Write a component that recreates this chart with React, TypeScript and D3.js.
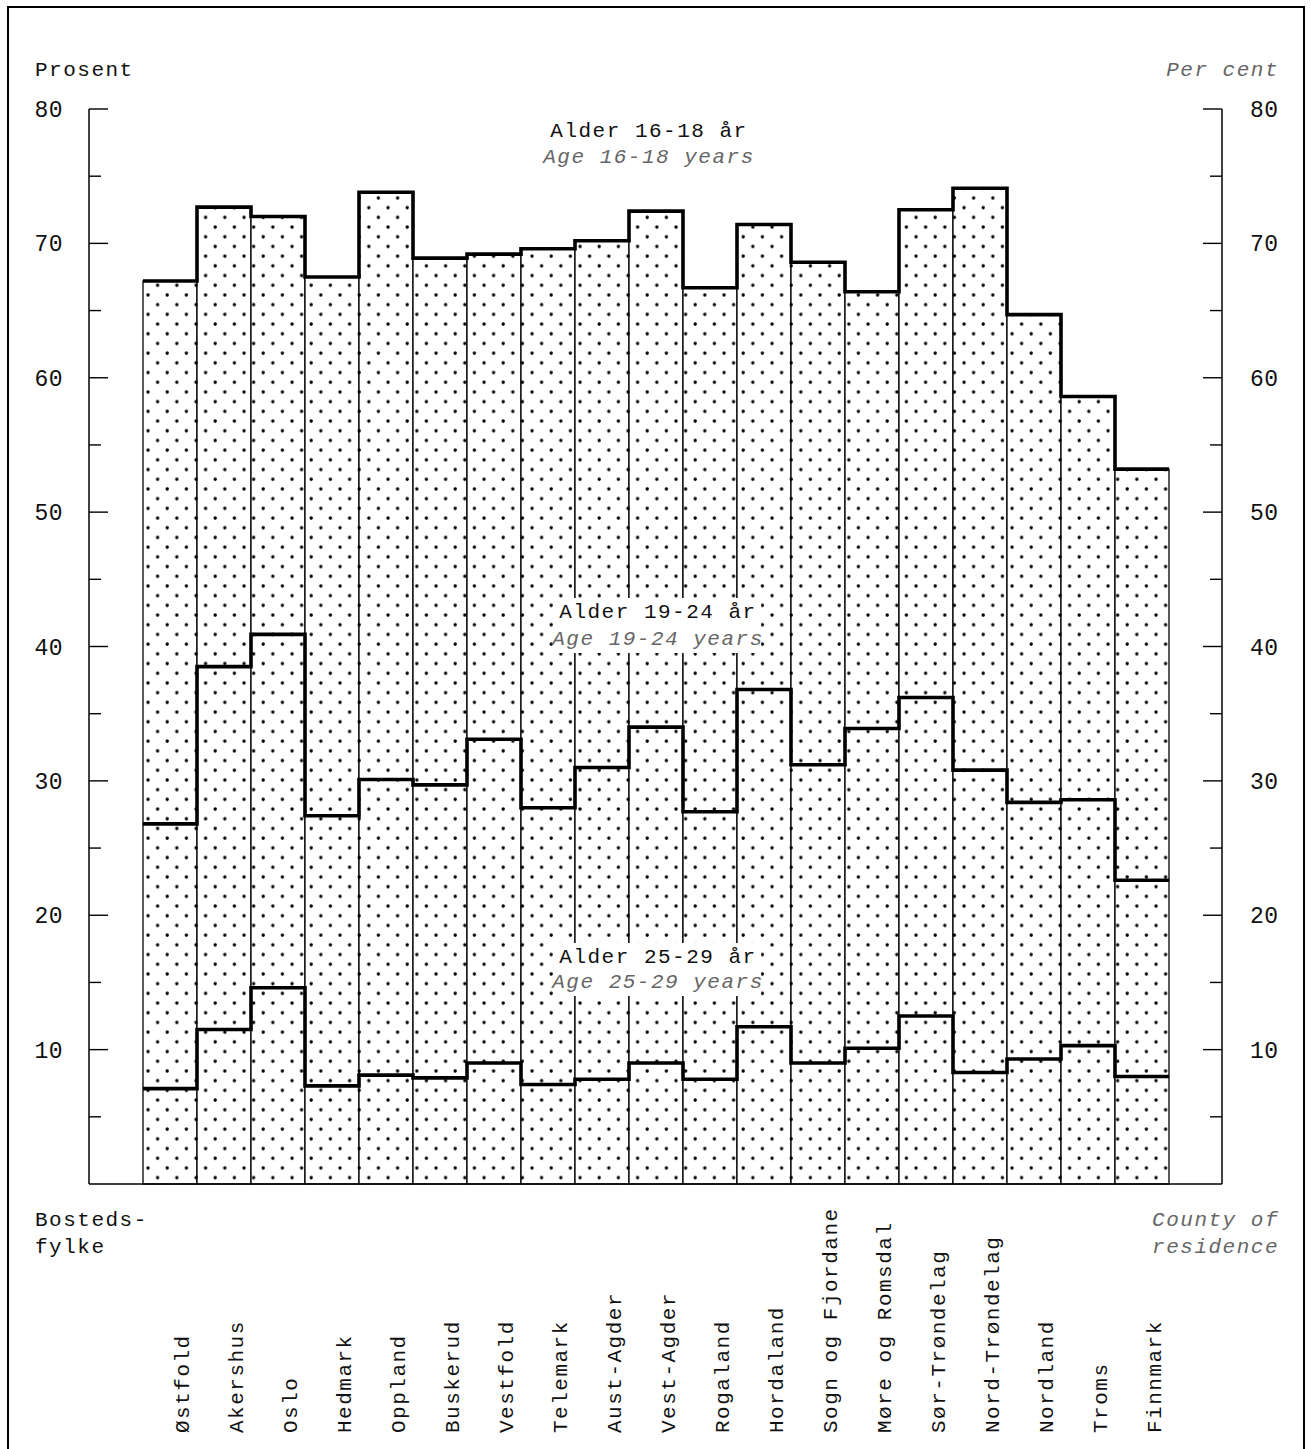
import React from "react";
import * as d3 from "d3";

const counties = [
  "Østfold", "Akershus", "Oslo", "Hedmark", "Oppland", "Buskerud", "Vestfold",
  "Telemark", "Aust-Agder", "Vest-Agder", "Rogaland", "Hordaland",
  "Sogn og Fjordane", "Møre og Romsdal", "Sør-Trøndelag", "Nord-Trøndelag",
  "Nordland", "Troms", "Finnmark",
];
const age16to18 = [67.2, 72.7, 72.0, 67.5, 73.8, 68.9, 69.2, 69.6, 70.2, 72.4, 66.7, 71.4, 68.6, 66.4, 72.5, 74.1, 64.7, 58.6, 53.2];
const age19to24 = [26.8, 38.5, 40.9, 27.4, 30.1, 29.7, 33.1, 28.0, 31.0, 34.0, 27.7, 36.8, 31.2, 33.9, 36.2, 30.8, 28.4, 28.6, 22.6];
const age25to29 = [7.1, 11.5, 14.6, 7.3, 8.1, 7.9, 9.0, 7.4, 7.8, 9.0, 7.8, 11.7, 9.0, 10.1, 12.5, 8.3, 9.3, 10.3, 8.0];
const yTicks = [5, 10, 15, 20, 25, 30, 35, 40, 45, 50, 55, 60, 65, 70, 75, 80];
const seriesLabels = [
  { no: "Alder 16-18 år", en: "Age 16-18 years" },
  { no: "Alder 19-24 år", en: "Age 19-24 years" },
  { no: "Alder 25-29 år", en: "Age 25-29 years" },
];

const MONO = "'Liberation Mono', 'DejaVu Sans Mono', monospace";

export default function App() {
  const W = 1311, H = 1449;
  const axL = 89, axR = 1222;
  const x = d3.scaleBand<string>().domain(counties).range([143, 1169]).paddingInner(0).paddingOuter(0);
  const y = d3.scaleLinear().domain([0, 80]).range([1184, 109]);
  const bw = x.bandwidth();

  const stepPts = (vals: number[]) => {
    const pts: [number, number][] = [];
    counties.forEach((c, i) => {
      pts.push([x(c)!, y(vals[i])]);
      pts.push([x(c)! + bw, y(vals[i])]);
    });
    return pts;
  };
  const line = d3.line<[number, number]>().x(d => d[0]).y(d => d[1]);

  const labelPos = [
    { cx: 649, y1: 137, y2: 163, box: false },
    { cx: 658, y1: 618, y2: 645, box: true },
    { cx: 658, y1: 963, y2: 988, box: true },
  ];

  const txt = { fontFamily: MONO, fontSize: 21, letterSpacing: 1.5, fill: "#111" } as const;
  const ital = { fontFamily: MONO, fontSize: 21, letterSpacing: 1.5, fill: "#666", fontStyle: "italic" as const };
  const num = { fontFamily: MONO, fontSize: 23, letterSpacing: 0.5, fill: "#111" } as const;

  return (
    <svg width={W} height={H} style={{ position: "absolute", left: 0, top: 0, background: "#fff" }}>
      <defs>
        <pattern id="dots" patternUnits="userSpaceOnUse" x={143} y={0} width={19.2} height={19.4}>
          <rect width={19.2} height={19.4} fill="#fff" />
          <circle cx={5} cy={4} r={1.7} fill="#000" />
          <circle cx={14.6} cy={13.7} r={1.7} fill="#000" />
        </pattern>
      </defs>
      <rect x={0} y={0} width={W} height={H} fill="#fff" />
      {/* frame */}
      <path d={`M8,${H + 5} L8,7 L1304,7 L1304,${H + 5}`} fill="none" stroke="#000" strokeWidth={2} />

      {/* bars */}
      {counties.map((c, i) => (
        <rect key={c} x={x(c)} y={y(age16to18[i])} width={bw} height={y(0) - y(age16to18[i])}
          fill="url(#dots)" stroke="#000" strokeWidth={1.3} />
      ))}

      {/* step lines */}
      {[age16to18, age19to24, age25to29].map((vals, k) => (
        <path key={k} d={line(stepPts(vals))!} fill="none" stroke="#000" strokeWidth={3.6} strokeLinejoin="miter" />
      ))}

      {/* baseline */}
      <line x1={axL} x2={axR} y1={y(0)} y2={y(0)} stroke="#000" strokeWidth={1.5} />

      {/* axes */}
      <line x1={axL} x2={axL} y1={y(80)} y2={y(0)} stroke="#000" strokeWidth={1.5} />
      <line x1={axR} x2={axR} y1={y(80)} y2={y(0)} stroke="#000" strokeWidth={1.5} />
      {yTicks.map(t => {
        const major = t % 10 === 0;
        const len = major ? 19 : 12;
        return (
          <g key={t}>
            <line x1={axL} x2={axL + len} y1={y(t)} y2={y(t)} stroke="#000" strokeWidth={1.4} />
            <line x1={axR - len} x2={axR} y1={y(t)} y2={y(t)} stroke="#000" strokeWidth={1.4} />
            {major && (
              <>
                <text x={63} y={y(t) + 8} textAnchor="end" {...num}>{t}</text>
                <text x={1250} y={y(t) + 8} textAnchor="start" {...num}>{t}</text>
              </>
            )}
          </g>
        );
      })}

      <text x={35} y={76} {...txt}>Prosent</text>
      <text x={1279} y={76} textAnchor="end" {...ital}>Per cent</text>

      {/* series labels */}
      {seriesLabels.map((s, k) => {
        const p = labelPos[k];
        return (
          <g key={k}>
            {p.box && <rect x={p.cx - 103} y={p.y1 - 20} width={206} height={p.y2 - p.y1 + 28} fill="#fff" />}
            <text x={p.cx} y={p.y1} textAnchor="middle" {...txt}>{s.no}</text>
            <text x={p.cx} y={p.y2} textAnchor="middle" {...ital}>{s.en}</text>
          </g>
        );
      })}

      <text x={35} y={1226} {...txt}>Bosteds-</text>
      <text x={35} y={1253} {...txt}>fylke</text>
      <text x={1279} y={1226} textAnchor="end" {...ital}>County of</text>
      <text x={1279} y={1253} textAnchor="end" {...ital}>residence</text>

      {/* county labels */}
      {counties.map(c => {
        const cx = x(c)! + bw / 2 + 13;
        return (
          <text key={c} transform={`translate(${cx},1433) rotate(-90)`} dominantBaseline="central" {...txt}>{c}</text>
        );
      })}
    </svg>
  );
}
